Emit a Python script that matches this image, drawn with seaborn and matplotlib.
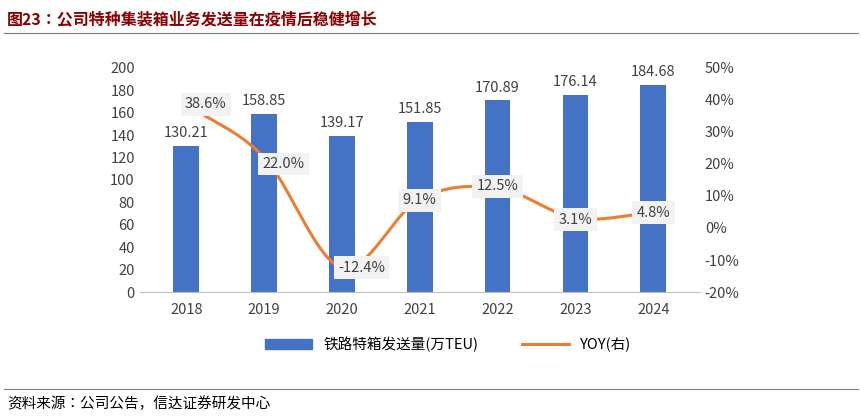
import numpy as np
import pandas as pd
import matplotlib.pyplot as plt
import seaborn as sns
from matplotlib.lines import Line2D
from matplotlib.patches import Patch

plt.rcParams['font.family'] = ['sans-serif']
plt.rcParams['font.sans-serif'] = ['Noto Sans CJK SC', 'Noto Sans CJK JP', 'Noto Sans CJK TC',
                                   'Noto Sans CJK KR', 'DejaVu Sans']

years = ['2018', '2019', '2020', '2021', '2022', '2023', '2024']
volume = [130.21, 158.85, 139.17, 151.85, 170.89, 176.14, 184.68]
yoy = [38.6, 22.0, -12.4, 9.1, 12.5, 3.1, 4.8]

BLUE = '#4472C4'
ORANGE = '#ED7D31'


def smooth(x, y, n=30):
    """Catmull-Rom style curve through the points (drawing only)."""
    x = np.asarray(x, float)
    y = np.asarray(y, float)
    px = np.concatenate([[2 * x[0] - x[1]], x, [2 * x[-1] - x[-2]]])
    py = np.concatenate([[2 * y[0] - y[1]], y, [2 * y[-1] - y[-2]]])
    xs, ys = [], []
    t = np.linspace(0, 1, n)
    for i in range(1, len(px) - 2):
        for p, out in ((px, xs), (py, ys)):
            p0, p1, p2, p3 = p[i - 1], p[i], p[i + 1], p[i + 2]
            out.extend(0.5 * (2 * p1 + (-p0 + p2) * t + (2 * p0 - 5 * p1 + 4 * p2 - p3) * t ** 2
                              + (-p0 + 3 * p1 - 3 * p2 + p3) * t ** 3))
    return np.array(xs), np.array(ys)


df = pd.DataFrame({'year': years, 'volume': volume, 'yoy': yoy})

fig = plt.figure(figsize=(8.62, 4.16), dpi=100)
ax = fig.add_axes([0.162, 0.298, 0.65, 0.539])
sns.barplot(data=df, x='year', y='volume', color=BLUE, width=0.33, saturation=1, ax=ax)
ax.set_ylim(0, 200)
ax.set_yticks(range(0, 201, 20))
ax.set_xlabel('')
ax.set_ylabel('')
for s in ['top', 'right', 'left']:
    ax.spines[s].set_visible(False)
ax.spines['bottom'].set_color('#BFBFBF')
ax.tick_params(axis='both', length=0, labelsize=10.5, colors='#404040')
ax.tick_params(axis='x', pad=8)
ax.set_xlim(-0.6, 6.6)
for i, v in enumerate(volume):
    ax.text(i, v + 5, f'{v:.2f}', ha='center', va='bottom', fontsize=10.5, color='#404040')

ax2 = ax.twinx()
sx, sy = smooth(range(len(yoy)), yoy)
ax2.plot(sx, sy, color=ORANGE, lw=2.2)
ax2.set_ylim(-20, 50)
ax2.set_yticks(range(-20, 51, 10))
ax2.set_yticklabels([f'{v}%' for v in range(-20, 51, 10)])
ax2.tick_params(axis='y', length=0, labelsize=10.5, colors='#404040')
for s in ['top', 'right', 'left', 'bottom']:
    ax2.spines[s].set_visible(False)
box = dict(boxstyle='square,pad=0.3', fc='#F2F2F2', ec='none')
offsets = [(0.25, 0), (0.25, -2), (0.25, 0), (0.0, -0.5), (0.0, 0.5), (0.0, -0.5), (0.0, 0)]
for i, v in enumerate(yoy):
    dx, dy = offsets[i]
    ax2.text(i + dx, v + dy, f'{v:.1f}%', ha='center', va='center', fontsize=10.5,
             color='#404040', bbox=box)

handles = [Patch(color=BLUE), Line2D([0], [0], color=ORANGE, lw=2.2)]
fig.legend(handles, ['铁路特箱发送量(万TEU)', 'YOY(右)'], loc='center', ncol=2,
           bbox_to_anchor=(0.52, 0.172), frameon=False, fontsize=10.5,
           handlelength=3.2, columnspacing=3)

fig.text(0.008, 0.955, '图23：公司特种集装箱业务发送量在疫情后稳健增长', fontsize=11.5,
         fontweight='bold', color='#8B0000', va='center')
fig.add_artist(Line2D([0.005, 0.995], [0.92, 0.92], color='#7F7F7F', lw=0.8))
fig.add_artist(Line2D([0.005, 0.995], [0.065, 0.065], color='#7F7F7F', lw=0.8))
fig.text(0.008, 0.03, '资料来源：公司公告，信达证券研发中心', fontsize=10.5,
         style='italic', color='#000000', va='center')

fig.savefig('out.png', dpi=100)
